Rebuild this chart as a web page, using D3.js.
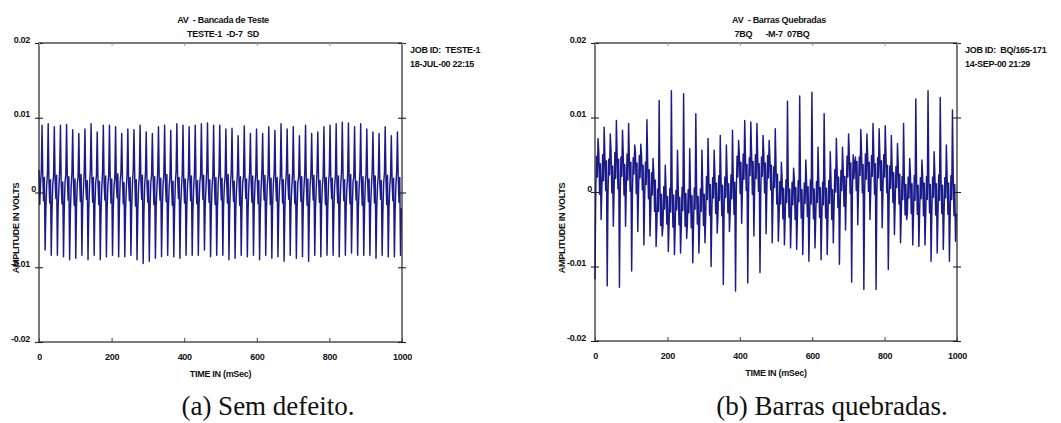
<!DOCTYPE html>
<html><head><meta charset="utf-8">
<script src="https://cdn.jsdelivr.net/npm/d3@7"></script>
<style>
body{margin:0;background:#fff}
svg text{font-family:"Liberation Sans",Arial,sans-serif;font-weight:bold;font-size:9px;fill:#111;letter-spacing:-0.3px;white-space:pre}
svg text.cap{font-family:"Liberation Serif","Times New Roman",serif;font-weight:normal;font-size:27px;letter-spacing:0;fill:#111}
</style>
</head><body>
<svg id="c" width="1061" height="423"></svg>
<script>
// ---------------- data ----------------
const SAMPLE_MS = 2.11;                 // sampling interval (ms)
const xTicks = [0, 200, 400, 600, 800, 1000];
const yTicks = [0.02, 0.01, 0, -0.01, -0.02];
const yTickLabels = ["0.02", "0.01", "0", "-0.01", "-0.02"];
const xLabel = "TIME IN (mSec)";
const yLabel = "AMPLITUDE IN VOLTS";

const leftTitle = ["AV  - Bancada de Teste", "TESTE-1  -D-7  SD"];
const leftJob = ["JOB ID:  TESTE-1", "18-JUL-00 22:15"];
const leftCaption = "(a) Sem defeito.";

const rightTitle = ["AV  - Barras Quebradas", "7BQ      -M-7  07BQ"];
const rightJob = ["JOB ID:  BQ/165-171", "14-SEP-00 21:29"];
const rightCaption = "(b) Barras quebradas.";

// amplitude samples in mV (one line per ~16.9 ms cycle)
const leftMv = [
 3.0,-1.6,1.2,2.8,9.0,1.9,-1.1,2.0,
 -7.7,-2.1,0.9,2.5,9.2,1.5,-1.4,1.7,
 -8.4,-2.4,1.1,2.2,8.8,1.8,-0.8,2.3,
 -8.4,-1.9,0.6,2.9,9.0,1.2,-1.5,1.4,
 -8.6,-2.2,1.4,2.4,9.1,2.0,-1.0,2.1,
 -9.0,-2.5,0.8,2.7,8.4,1.4,-1.7,1.8,
 -8.8,-1.8,1.2,2.1,7.9,1.7,-1.2,2.4,
 -8.4,-2.0,0.5,2.6,8.5,1.1,-0.9,1.6,
 -9.0,-2.3,1.0,3.0,9.2,2.2,-1.3,2.0,
 -8.4,-1.7,1.3,2.3,8.1,1.6,-1.6,1.5,
 -9.0,-2.6,0.7,2.8,9.0,1.3,-1.0,2.2,
 -8.6,-2.0,1.1,2.4,9.0,1.9,-1.4,1.8,
 -8.4,-2.2,0.9,2.0,8.8,1.0,-0.7,2.5,
 -8.6,-1.9,1.5,2.7,7.9,1.8,-1.5,1.3,
 -8.6,-2.4,0.6,2.5,8.5,1.4,-1.1,2.0,
 -8.4,-2.1,1.2,2.9,8.4,2.1,-1.8,1.7,
 -9.0,-2.5,0.8,2.2,9.0,1.6,-0.9,2.3,
 -9.5,-2.7,1.0,2.6,8.1,1.2,-1.3,1.6,
 -9.2,-2.3,1.4,2.3,7.9,1.9,-1.6,2.1,
 -8.8,-1.8,0.7,2.8,8.8,1.5,-1.0,1.9,
 -8.6,-2.2,1.1,2.4,9.0,1.7,-1.2,2.4,
 -8.4,-2.0,0.9,2.1,8.3,1.3,-1.7,1.5,
 -8.6,-2.4,1.3,2.9,9.2,2.0,-0.8,2.0,
 -8.8,-1.9,0.6,2.5,9.0,1.4,-1.4,1.8,
 -8.4,-2.1,1.2,2.2,8.8,1.8,-1.1,2.2,
 -8.4,-2.3,0.8,2.7,9.0,1.1,-1.5,1.6,
 -8.4,-1.7,1.4,2.4,9.2,2.1,-0.9,2.3,
 -7.7,-2.0,0.7,2.9,9.3,1.6,-1.3,1.7,
 -8.6,-2.5,1.0,2.3,9.0,1.3,-1.6,2.0,
 -8.4,-2.2,1.3,2.6,9.0,1.9,-1.0,1.9,
 -8.4,-1.8,0.9,2.2,8.5,1.5,-1.4,2.4,
 -9.0,-2.4,1.1,2.8,8.6,1.2,-1.2,1.5,
 -8.8,-2.1,0.6,2.5,7.6,1.8,-1.7,2.1,
 -8.4,-1.9,1.4,2.1,8.9,2.0,-0.8,1.8,
 -8.6,-2.3,0.8,2.7,7.9,1.4,-1.3,2.2,
 -8.4,-2.0,1.2,2.4,8.5,1.7,-1.5,1.6,
 -9.0,-2.6,0.7,2.9,7.9,1.1,-1.0,2.3,
 -8.4,-2.1,1.0,2.3,8.8,1.9,-1.6,1.9,
 -8.8,-1.8,1.3,2.6,8.3,1.5,-1.1,2.0,
 -8.6,-2.2,0.9,2.2,9.2,2.2,-1.4,1.7,
 -9.2,-2.5,1.1,2.8,8.5,1.3,-0.9,2.4,
 -8.4,-1.9,0.6,2.4,8.8,1.7,-1.5,1.5,
 -8.8,-2.3,1.4,2.1,7.6,1.9,-1.2,2.1,
 -8.6,-2.0,0.8,2.7,9.0,1.2,-1.7,1.8,
 -9.2,-2.4,1.2,2.5,7.9,1.6,-1.0,2.3,
 -8.4,-2.1,0.7,2.9,8.1,2.0,-1.3,1.6,
 -8.6,-1.7,1.0,2.2,8.8,1.4,-1.6,2.0,
 -8.4,-2.2,1.3,2.6,9.0,1.8,-0.8,1.9,
 -8.4,-2.5,0.9,2.3,9.2,1.1,-1.4,2.2,
 -8.6,-1.9,1.1,2.8,9.4,2.1,-1.1,1.7,
 -8.4,-2.1,0.6,2.4,9.3,1.5,-1.5,2.4,
 -8.1,-2.3,1.4,2.1,8.8,1.9,-1.0,1.5,
 -8.4,-2.0,0.8,2.7,9.2,1.3,-1.7,2.1,
 -8.4,-2.4,1.2,2.5,8.5,1.7,-1.2,1.8,
 -8.4,-1.8,0.7,2.9,8.1,2.0,-1.4,2.2,
 -8.8,-2.2,1.0,2.2,7.9,1.2,-0.9,1.6,
 -8.4,-2.6,1.3,2.6,8.8,1.8,-1.6,2.3,
 -8.6,-2.0,0.9,2.3,7.6,1.4,-1.1,1.9,
 -8.6,-2.3,1.1,2.8,8.1,1.9,-1.3,2.0,
 -8.4,-2.1
];

const rightMv = [
 -11.7,0.2,4.8,2.0,7.2,5.2,-0.3,3.8,
 -3.7,0.5,5.0,1.5,8.7,4.6,0.2,4.2,
 -12.6,-0.4,4.4,2.3,7.8,5.5,-0.1,3.5,
 -4.6,0.3,5.3,1.8,9.6,4.9,0.4,4.4,
 -12.8,-0.2,4.7,2.1,8.3,5.1,-0.4,3.7,
 -4.6,0.6,5.1,1.6,9.2,4.5,0.1,4.0,
 -10.6,-0.3,4.6,2.4,6.3,5.3,-0.2,3.9,
 -5.3,0.1,4.9,1.9,6.4,4.8,0.3,3.6,
 -7.1,-1.0,4.0,1.0,9.7,3.9,-0.9,3.0,
 -5.9,-2.4,2.6,-0.4,4.5,2.4,-2.6,1.6,
 -7.3,-4.4,0.4,-2.6,12.3,0.6,-4.5,-0.3,
 -5.9,-4.6,0.7,-2.3,3.6,0.3,-4.3,-0.6,
 -8.0,-4.3,0.5,-2.7,13.6,0.7,-4.7,-0.4,
 -8.4,-4.7,0.2,-2.4,5.6,0.4,-4.4,-0.7,
 -8.2,-4.5,0.6,-2.5,13.2,0.8,-4.6,-0.2,
 -6.2,-4.2,0.3,-2.8,5.8,0.2,-4.8,-0.5,
 -9.5,-4.6,0.5,-2.3,10.5,0.5,-4.3,-0.6,
 -8.2,-4.4,0.4,-2.6,5.6,0.6,-4.5,-0.3,
 -6.8,-3.0,2.1,-1.0,7.2,2.0,-3.1,1.0,
 -10.0,-2.8,1.9,-0.8,5.6,2.2,-2.9,1.2,
 -5.5,-3.1,2.2,-1.1,7.6,1.8,-3.2,0.9,
 -12.4,-2.9,2.0,-0.7,6.3,2.1,-2.8,1.1,
 -5.3,-2.7,2.3,-0.9,8.3,2.0,-3.0,1.3,
 -13.3,-0.1,4.8,2.0,6.9,5.0,-0.2,4.0,
 -4.2,0.3,5.1,1.7,9.6,4.7,0.2,3.7,
 -12.2,-0.2,4.6,2.2,9.4,5.3,-0.3,4.1,
 -5.9,0.4,5.0,1.8,9.2,4.8,0.1,3.8,
 -10.8,-0.1,4.7,2.1,7.6,5.1,-0.1,3.9,
 -5.6,0.2,4.9,1.9,6.9,4.6,0.3,3.6,
 -6.8,-1.4,3.4,0.6,8.5,3.6,-1.6,2.4,
 -6.6,-3.5,1.4,-1.6,4.0,1.6,-3.6,0.5,
 -7.1,-3.4,1.6,-1.4,12.2,1.4,-3.4,0.4,
 -7.5,-3.6,1.3,-1.7,3.2,1.7,-3.7,0.6,
 -7.7,-3.3,1.5,-1.3,12.9,1.5,-3.5,0.3,
 -8.4,-3.7,1.2,-1.5,4.3,1.3,-3.3,0.7,
 -9.3,-3.5,1.6,-1.6,13.4,1.6,-3.6,0.4,
 -7.5,-3.4,1.4,-1.4,6.0,1.4,-3.4,0.6,
 -9.1,-3.6,1.3,-1.7,10.5,1.7,-3.5,0.5,
 -8.4,-3.3,1.5,-1.5,5.4,1.5,-3.7,0.3,
 -6.8,-2.0,3.0,0.0,7.2,3.0,-2.1,2.0,
 -9.7,-2.1,2.9,0.2,6.0,2.9,-1.9,2.1,
 -5.1,0.1,4.8,2.0,7.8,5.0,-0.2,3.9,
 -12.1,-0.2,5.0,1.8,4.0,4.7,0.2,4.1,
 -4.4,0.3,4.7,2.2,8.4,5.2,-0.1,3.7,
 -13.1,-0.1,5.1,1.7,7.8,4.9,0.1,4.0,
 -3.7,0.2,4.9,2.1,9.2,5.1,-0.3,3.8,
 -13.1,-0.3,4.6,1.9,8.5,4.8,0.2,4.2,
 -4.8,0.1,5.0,2.0,8.9,5.0,-0.1,3.6,
 -10.4,-1.5,3.5,0.5,7.6,3.4,-1.4,2.6,
 -5.7,-1.4,3.4,0.6,6.5,3.6,-1.6,2.4,
 -6.8,-3.0,2.1,-1.0,9.2,2.0,-3.1,1.0,
 -3.7,-2.8,2.0,-0.8,4.5,2.2,-2.9,1.1,
 -7.1,-3.1,2.2,-1.1,12.5,1.9,-3.0,0.9,
 -7.3,-2.9,1.9,-0.9,4.3,2.1,-3.2,1.2,
 -7.1,-3.0,2.1,-1.0,13.6,2.0,-2.8,1.0,
 -9.3,-2.8,2.0,-0.7,5.4,2.2,-3.1,1.1,
 -8.2,-3.1,2.3,-1.1,12.7,1.8,-2.9,0.9,
 -7.7,-2.9,1.9,-0.8,6.3,2.1,-3.0,1.2,
 -9.3,-3.0,2.2,-1.0,11.0,2.0,-3.2,1.0,
 -6.6,-2.9
];

// ---------------- drawing ----------------
const svg = d3.select("#c");
svg.append("rect").attr("width", 1061).attr("height", 423).attr("fill", "#fff");

function panel(cfg) {
  const x = d3.scaleLinear().domain([0, 1000]).range([cfg.x0, cfg.x1]);
  const y = d3.scaleLinear().domain([-0.02, 0.02]).range([cfg.y1, cfg.y0]);
  const g = svg.append("g");

  // signal
  const line = d3.line().x((d, i) => x(i * SAMPLE_MS)).y(d => y(d / 1000));
  g.append("path").datum(cfg.data).attr("d", line)
    .attr("fill", "none").attr("stroke", "#1a1a88").attr("stroke-width", 1.45)
    .attr("stroke-linejoin", "round");

  // frame
  g.append("rect").attr("x", cfg.x0).attr("y", cfg.y0)
    .attr("width", cfg.x1 - cfg.x0).attr("height", cfg.y1 - cfg.y0)
    .attr("fill", "none").attr("stroke", "#222").attr("stroke-width", 1.2);

  // left axis (ticks crossing the frame, labels)
  const ay = g.append("g").attr("transform", `translate(${cfg.x0},0)`)
    .call(d3.axisLeft(y).tickValues(yTicks).tickSize(4).tickPadding(4)
      .tickFormat((d, i) => yTickLabels[i]));
  ay.select(".domain").remove();
  ay.selectAll(".tick line").attr("x1", 4).attr("x2", -4).attr("stroke", "#222").attr("stroke-width", 1.1);
  ay.selectAll(".tick text").attr("dy", "-0.1em")
    .attr("x", d => d === 0 ? -3 : -9);

  // right axis ticks
  const ar = g.append("g").attr("transform", `translate(${cfg.x1},0)`)
    .call(d3.axisRight(y).tickValues(yTicks).tickSize(4).tickFormat(""));
  ar.select(".domain").remove();
  ar.selectAll(".tick line").attr("x1", -4).attr("x2", 4).attr("stroke", "#222").attr("stroke-width", 1.1);

  // bottom axis
  const ab = g.append("g").attr("transform", `translate(0,${cfg.y1})`)
    .call(d3.axisBottom(x).tickValues(xTicks).tickSizeInner(-4).tickSizeOuter(0).tickPadding(12)
      .tickFormat(d3.format("d")));
  ab.select(".domain").remove();
  ab.selectAll(".tick line").attr("stroke", "#444");

  // top axis ticks
  const at = g.append("g").attr("transform", `translate(0,${cfg.y0})`)
    .call(d3.axisTop(x).tickValues(xTicks).tickSizeInner(-3).tickSizeOuter(0).tickFormat(""));
  at.select(".domain").remove();
  at.selectAll(".tick line").attr("stroke", "#999");

  g.selectAll(".tick text").attr("fill", "#111").attr("font-size", null).attr("font-family", null);

  const cx = (cfg.x0 + cfg.x1) / 2;
  g.append("text").attr("x", cx).attr("y", cfg.y1 + 35).attr("text-anchor", "middle").text(xLabel);
  g.append("text").attr("transform", `translate(${cfg.ylx},228) rotate(-90)`)
    .attr("text-anchor", "middle").attr("dy", "0.35em").text(yLabel);

  g.append("text").attr("x", cfg.t1x).attr("y", 23).attr("text-anchor", "middle").text(cfg.title[0]);
  g.append("text").attr("x", cfg.t2x).attr("y", 37).attr("text-anchor", "middle").text(cfg.title[1]);
  g.append("text").attr("x", cfg.x1 + 8).attr("y", 53).text(cfg.job[0]);
  g.append("text").attr("x", cfg.x1 + 8).attr("y", 67).text(cfg.job[1]);

  g.append("text").attr("class", "cap").attr("x", cfg.capx).attr("y", 415)
    .attr("text-anchor", "middle").text(cfg.caption);
}

panel({ data: leftMv, x0: 39, x1: 402, y0: 43, y1: 342, ylx: 16,
  t1x: 223, t2x: 223, title: leftTitle, job: leftJob, caption: leftCaption, capx: 268 });
panel({ data: rightMv, x0: 595, x1: 957, y0: 43, y1: 341, ylx: 562,
  t1x: 779, t2x: 772, title: rightTitle, job: rightJob, caption: rightCaption, capx: 832 });
</script>
</body></html>
